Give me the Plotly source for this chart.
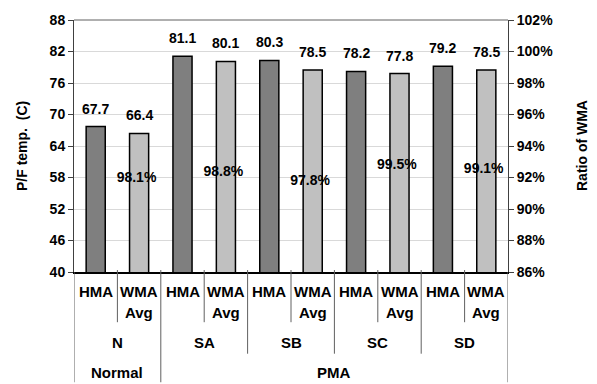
import plotly.graph_objects as go

groups = ["N", "SA", "SB", "SC", "SD"]
supergroups = ["Normal", "PMA"]
super_span = [1, 4]  # number of groups in each supergroup
bar_types = ["HMA", "WMA"]
hma = [67.7, 81.1, 80.3, 78.2, 79.2]
wma = [66.4, 80.1, 78.5, 77.8, 78.5]
ratio = [98.1, 98.8, 97.8, 99.5, 99.1]
left_ticks = [40, 46, 52, 58, 64, 70, 76, 82, 88]
right_ticks = [86, 88, 90, 92, 94, 96, 98, 100, 102]

FONT = "Liberation Sans, Arial, sans-serif"
DARK = "#7f7f7f"
LIGHT = "#c0c0c0"
LINE = "#404040"

# plot area in pixels
L, R, T, B = 74, 508, 16, 272
W, H = 597, 384


def pyp(py):
    return (B - py) / (B - T)


def pxp(px):
    return (px - L) / (R - L)


def bold(size):
    return dict(family=FONT, size=size, color="black", weight="bold")


xs_h = [2 * i for i in range(len(groups))]
xs_w = [2 * i + 1 for i in range(len(groups))]

fig = go.Figure()
fig.add_trace(go.Bar(x=xs_h, y=hma, marker=dict(color=DARK, line=dict(color="black", width=1.5)),
                     width=0.44, showlegend=False, hoverinfo="y"))
fig.add_trace(go.Bar(x=xs_w, y=wma, marker=dict(color=LIGHT, line=dict(color="black", width=1.5)),
                     width=0.44, showlegend=False, hoverinfo="y"))
# ratio labels on a hidden axis
fig.add_trace(go.Scatter(x=[x - 0.06 for x in xs_w], y=ratio, yaxis="y3", mode="text",
                         text=[f"{r:.1f}%" for r in ratio],
                         textfont=bold(14),
                         textposition="middle center", showlegend=False, hoverinfo="skip"))
# invisible trace to activate y2
fig.add_trace(go.Scatter(x=[0], y=[90], yaxis="y2", mode="markers", marker=dict(opacity=0),
                         showlegend=False, hoverinfo="skip"))

annotations = []
for xv, v in list(zip(xs_h, hma)) + list(zip(xs_w, wma)):
    annotations.append(dict(x=xv, y=v, xref="x", yref="y", text=f"{v:.1f}", showarrow=False,
                            yanchor="bottom", yshift=8, font=bold(14)))

# category labels
for i in range(len(groups)):
    annotations.append(dict(x=xs_h[i], y=pyp(292), xref="x", yref="paper", text=bar_types[0],
                            showarrow=False, yanchor="middle", font=bold(15)))
    annotations.append(dict(x=xs_w[i], y=pyp(292), xref="x", yref="paper", text=bar_types[1],
                            showarrow=False, yanchor="middle", font=bold(15)))
    annotations.append(dict(x=xs_w[i], y=pyp(313), xref="x", yref="paper", text="Avg",
                            showarrow=False, yanchor="middle", font=bold(15)))
    annotations.append(dict(x=2 * i + 0.5, y=pyp(344), xref="x", yref="paper", text=groups[i],
                            showarrow=False, yanchor="middle", font=bold(15)))
start = 0
for name, span in zip(supergroups, super_span):
    center = start * 2 + span - 0.5
    annotations.append(dict(x=center, y=pyp(374), xref="x", yref="paper", text=name,
                            showarrow=False, yanchor="middle", font=bold(15)))
    start += span

annotations.append(dict(x=pxp(22), y=pyp(144), xref="paper", yref="paper", text="P/F temp.  (C)",
                        textangle=-90, showarrow=False, xanchor="center", yanchor="middle",
                        font=bold(14)))
annotations.append(dict(x=pxp(582), y=pyp(144), xref="paper", yref="paper", text="Ratio of WMA",
                        textangle=-90, showarrow=False, xanchor="center", yanchor="middle",
                        font=bold(14)))

shapes = []
for i in range(len(groups)):
    shapes.append(dict(type="line", xref="x", yref="paper", x0=2 * i + 0.5, x1=2 * i + 0.5,
                       y0=pyp(270), y1=pyp(323), line=dict(color="#606060", width=1)))
bounds = []
start = 0
for span in super_span:
    bounds.append(start * 2 + span * 2 - 0.5)
    start += span
for g in range(1, len(groups)):
    xv = 2 * g - 0.5
    y1 = pyp(H) if xv in bounds else pyp(355)
    shapes.append(dict(type="line", xref="x", yref="paper", x0=xv, x1=xv,
                       y0=pyp(270), y1=y1, line=dict(color="#606060", width=1)))
for xv in [-0.5, 2 * len(groups) - 0.5]:
    shapes.append(dict(type="line", xref="x", yref="paper", x0=xv, x1=xv,
                       y0=pyp(272), y1=pyp(H), line=dict(color="#606060", width=1)))
shapes.append(dict(type="line", xref="paper", yref="paper", x0=0, x1=1, y0=1, y1=1,
                   line=dict(color="#606060", width=1)))

fig.update_layout(
    width=W, height=H,
    margin=dict(l=L, r=W - R, t=T, b=H - B),
    paper_bgcolor="white", plot_bgcolor="white",
    bargap=0.56,
    xaxis=dict(range=[-0.5, 2 * len(groups) - 0.5], showticklabels=False, ticks="",
               showgrid=False, zeroline=False, showline=True, linecolor="black", linewidth=1.5),
    yaxis=dict(range=[40, 88], tickvals=left_ticks, ticktext=[str(t) for t in left_ticks],
               ticks="outside", ticklen=5, tickcolor=LINE,
               showgrid=True, gridcolor="#d9d9d9", gridwidth=1, zeroline=False,
               showline=True, linecolor=LINE, linewidth=1, tickfont=bold(14)),
    yaxis2=dict(range=[86, 102], tickvals=right_ticks, ticktext=[f"{t}%" for t in right_ticks],
                overlaying="y", side="right",
                ticks="outside", ticklen=5, tickcolor=LINE, showgrid=False, zeroline=False,
                showline=True, linecolor=LINE, linewidth=1, tickfont=bold(14)),
    yaxis3=dict(range=[88.26, 114.92], overlaying="y", visible=False),
    annotations=annotations,
    shapes=shapes,
)

fig.write_html("out.html", config={"displayModeBar": False},
               post_script="document.body.style.margin='0px';document.body.style.overflow='hidden';")
